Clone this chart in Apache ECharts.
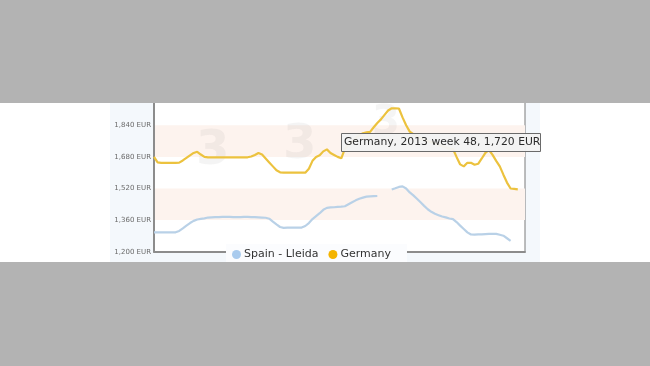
<!DOCTYPE html>
<html><head><meta charset="utf-8">
<script src="https://cdn.jsdelivr.net/npm/echarts@6/dist/echarts.min.js"></script>
<style>
html,body{margin:0;padding:0;width:650px;height:366px;overflow:hidden;background:#fff;}
#panel{position:absolute;left:110px;top:0;width:430px;height:366px;background:#f4f8fc;}
#chart{position:absolute;left:0;top:0;width:650px;height:366px;}
.mask{position:absolute;left:0;width:650px;background:#b3b3b3;}
</style></head><body>
<div id="panel"></div>
<div id="chart"></div>
<div class="mask" style="top:0;height:103px"></div>
<div class="mask" style="top:262px;height:104px"></div>
<script>
// Week categories: 2012 week 17 .. 2014 week 16
var startYear = 2012, startWeek = 17, weekCount = 104;
var categories = [];
(function(){ var y = startYear, w = startWeek;
  for (var i = 0; i < weekCount; i++) { categories.push(y + ' week ' + w); w++; if (w > 52) { w = 1; y++; } } })();

var seriesNames = ['Spain - Lleida', 'Germany'];

var spainLleida = [
  1298,1298,1298,1298,1298,1298,1298,1305,1318,1332,
  1345,1356,1363,1366,1369,1373,1374,1375,1375,1376,
  1376,1376,1375,1375,1375,1376,1376,1375,1375,1374,
  1373,1372,1367,1352,1338,1325,1321,1322,1322,1322,
  1322,1322,1330,1345,1365,1380,1395,1412,1422,1424,
  1425,1427,1428,1430,1440,1450,1460,1468,1474,1479,
  1480,1481,1482,null,null,null,1515,1521,1528,1531,
  1520,1500,1485,1468,1450,1432,1415,1402,1392,1385,
  1378,1374,1368,1365,1350,1332,1315,1298,1287,1286,
  1288,1288,1289,1290,1290,1290,1286,1281,1268,1255
];

var germany = [
  1680,1652,1650,1650,1650,1650,1650,1651,1662,1675,
  1688,1700,1706,1692,1680,1678,1678,1678,1678,1678,
  1678,1678,1678,1678,1678,1678,1678,1682,1690,1700,
  1692,1672,1652,1632,1612,1602,1600,1600,1600,1600,
  1600,1600,1600,1620,1660,1680,1688,1708,1718,1700,
  1690,1680,1673,1722,1740,1758,1775,1790,1800,1804,
  1807,1830,1852,1870,1893,1915,1926,1926,1925,1880,
  1840,1808,1795,1785,1775,1765,1760,1755,1750,1742,
  1735,1728,1722,1720,1680,1642,1632,1650,1650,1640,
  1645,1672,1700,1715,1690,1660,1632,1590,1550,1520,
  1518,1516
];

var yTickValues = [1200, 1360, 1520, 1680, 1840, 2000];
var yTickLabels = ['1,200 EUR', '1,360 EUR', '1,520 EUR', '1,680 EUR', '1,840 EUR', '2,000 EUR'];

var tooltipText = 'Germany, 2013 week 48, 1,720 EUR';
var watermarkText = '3';

var chart = echarts.init(document.getElementById('chart'), null, {renderer: 'canvas'});
chart.setOption({
  animation: false,
  backgroundColor: 'transparent',
  textStyle: {fontFamily: 'DejaVu Sans'},
  grid: {left: 154, right: 125, top: 93.7, bottom: 114.3, show: true,
         backgroundColor: '#ffffff', borderColor: '#7a7a7a', borderWidth: 1},
  xAxis: {
    type: 'category', data: categories, boundaryGap: false,
    axisLine: {lineStyle: {color: '#8c8c8c', width: 2}},
    axisTick: {show: false}, axisLabel: {show: false}, splitLine: {show: false}
  },
  yAxis: {
    type: 'value', min: 1200, max: 2000, interval: 160,
    axisLine: {show: true, lineStyle: {color: '#8c8c8c', width: 2}},
    axisTick: {show: false},
    splitLine: {show: false},
    splitArea: {show: true, areaStyle: {color: ['rgba(255,255,255,0)', '#fdf3ee']}},
    axisLabel: {
      margin: 3, fontSize: 7, color: '#6a6a6a', fontFamily: 'DejaVu Sans',
      formatter: function (v) { var k = yTickValues.indexOf(v); return k >= 0 ? yTickLabels[k] : ''; }
    }
  },
  legend: {
    left: 226, top: 244, padding: [5, 16, 6, 6], itemGap: 10,
    backgroundColor: '#fbfcfe', icon: 'circle', itemWidth: 9, itemHeight: 9,
    textStyle: {fontSize: 11, color: '#333', fontFamily: 'DejaVu Sans', padding: [0, 0, 0, -2]},
    data: [
      {name: seriesNames[0], itemStyle: {color: '#a9cbee'}},
      {name: seriesNames[1], itemStyle: {color: '#f4b400'}}
    ]
  },
  graphic: [
    {type: 'text', z: 1, left: 196, top: 128, style: {text: watermarkText, font: 'bold 48px DejaVu Sans', fill: 'rgba(110,110,110,0.08)'}},
    {type: 'text', z: 1, left: 283, top: 122, style: {text: watermarkText, font: 'bold 48px DejaVu Sans', fill: 'rgba(110,110,110,0.08)'}},
    {type: 'text', z: 1, left: 372, top: 104, style: {text: watermarkText, font: 'bold 40px DejaVu Sans', fill: 'rgba(110,110,110,0.07)'}},
    {type: 'rect', z: 50, shape: {x: 341.5, y: 133.5, width: 199, height: 18},
     style: {fill: 'rgba(242,242,242,0.96)', stroke: '#6a6a6a', lineWidth: 1}},
    {type: 'text', z: 51, left: 344, top: 136.5,
     style: {text: tooltipText, font: '10.8px DejaVu Sans', fill: '#2a2a2a'}}
  ],
  series: [
    {name: seriesNames[0], type: 'line', data: spainLleida, symbol: 'none', connectNulls: false,
     lineStyle: {color: '#b9d1e7', width: 2.2}, itemStyle: {color: '#b9d1e7'}},
    {name: seriesNames[1], type: 'line', data: germany, symbol: 'none',
     lineStyle: {color: '#ecc23e', width: 2.2}, itemStyle: {color: '#ecc23e'}}
  ]
});
</script>
</body></html>
